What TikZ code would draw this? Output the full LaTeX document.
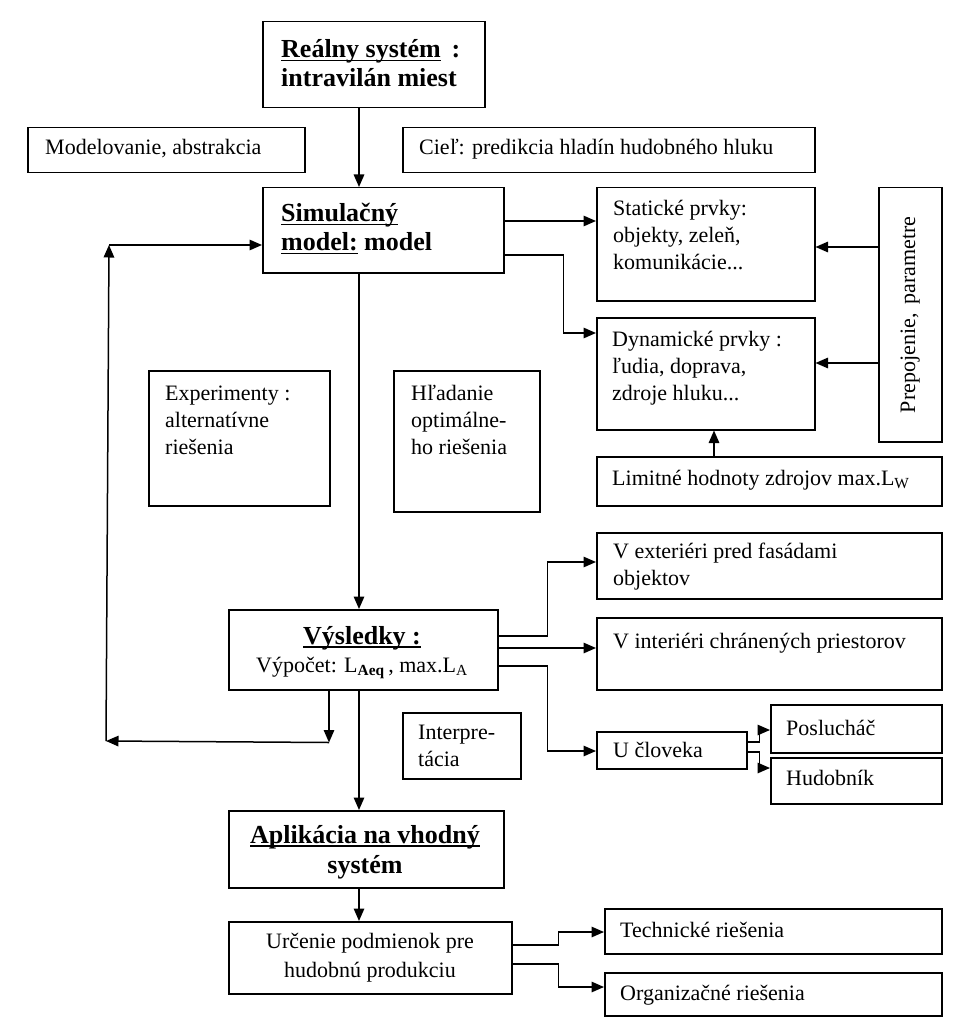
\documentclass[tikz,border=0pt]{standalone}
\usepackage{fontspec}
\setmainfont{Liberation Serif}
\usetikzlibrary{arrows.meta,calc}
\newcommand\myul[1]{\setbox0=\hbox{#1}\rlap{\rule[-3.5pt]{\wd0}{1.2pt}}\box0\relax}
\begin{document}
\begin{tikzpicture}[x=1pt,y=-1pt,
  box/.style={draw,line width=1.5pt,inner sep=0pt,anchor=north west},
  txt/.style={inner sep=0pt,align=left,anchor=base west,font=\fontsize{22}{27}\selectfont},
  ctxt/.style={inner sep=0pt,align=center,anchor=base,font=\fontsize{22}{29}\selectfont},
  btxt/.style={inner sep=0pt,align=left,anchor=base west,font=\fontsize{26}{29.5}\selectfont\bfseries},
  bctxt/.style={inner sep=0pt,align=center,anchor=base,font=\fontsize{26}{30}\selectfont\bfseries},
  arr/.style={line width=1.5pt,-{Triangle[length=12.5pt,width=10.5pt]}},
  ln/.style={line width=1.5pt}]
\useasboundingbox (0,0) rectangle (961,1024);

% boxes
\node[box,minimum width=222,minimum height=86] (real) at (262,21) {};
\node[box,minimum width=277,minimum height=45] (model) at (27,127) {};
\node[box,minimum width=412,minimum height=45] (ciel) at (402,127) {};
\node[box,minimum width=241,minimum height=85] (simul) at (262,187) {};
\node[box,minimum width=218,minimum height=113] (stat) at (596,187) {};
\node[box,minimum width=218,minimum height=112] (dyn) at (596,317) {};
\node[box,minimum width=63,minimum height=254] (prep) at (878,187) {};
\node[box,minimum width=345,minimum height=49] (lim) at (596,456) {};
\node[box,minimum width=181,minimum height=135] (exp) at (148,370) {};
\node[box,minimum width=146,minimum height=141] (hlad) at (393,370) {};
\node[box,minimum width=269,minimum height=80] (vys) at (228,609) {};
\node[box,minimum width=345,minimum height=66] (vext) at (596,532) {};
\node[box,minimum width=345,minimum height=72] (vint) at (596,617) {};
\node[box,minimum width=150,minimum height=37] (uclo) at (596,731) {};
\node[box,minimum width=171,minimum height=48] (posl) at (770,704) {};
\node[box,minimum width=171,minimum height=46] (hudo) at (770,757) {};
\node[box,minimum width=118,minimum height=66] (interp) at (402,712) {};
\node[box,minimum width=275,minimum height=77] (apl) at (228,810) {};
\node[box,minimum width=283,minimum height=72] (urc) at (228,921) {};
\node[box,minimum width=337,minimum height=45] (tech) at (604,908) {};
\node[box,minimum width=337,minimum height=43] (org) at (604,972) {};

% texts (multi-line nodes: base = last line)
\node[btxt] (realT) at (281,87) {\myul{Reálny systém}\, :\\intravilán miest};
\node[txt] (modelT) at (45,155) {Modelovanie, abstrakcia};
\node[txt] (cielT) at (419,155) {Cieľ: predikcia hladín hudobného hluku};
\node[btxt] (simulT) at (281,251) {\myul{Simulačný}\\\myul{model:} model};
\node[txt] (statT) at (613,269) {Statické prvky:\\objekty, zeleň,\\komunikácie...};
\node[txt] (dynT) at (612,400) {Dynamické prvky :\\ľudia, doprava,\\zdroje hluku...};
\node[txt,anchor=center,rotate=90] (prepT) at (prep.center) {Prepojenie,\, parametre};
\node[txt] (limT) at (612,485) {Limitné hodnoty zdrojov max.L\textsubscript{W}};
\node[txt] (expT) at (165,454) {Experimenty :\\alternatívne\\riešenia};
\node[txt] (hladT) at (411,454) {Hľadanie\\optimálne-\\ho riešenia};
\node[bctxt] (vysT) at (362,644) {\myul{Výsledky :}};
\node[ctxt] (vysT2) at (362,672) {Výpočet: L\textsubscript{\textbf{Aeq}}\,, max.L\textsubscript{A}};
\node[txt] (vextT) at (613,585) {V exteriéri pred fasádami\\objektov};
\node[txt] (vintT) at (613,648) {V interiéri chránených priestorov};
\node[txt] (ucloT) at (613,757) {U človeka};
\node[txt] (poslT) at (786,735) {Poslucháč};
\node[txt] (hudoT) at (786,785) {Hudobník};
\node[txt] (interpT) at (418,766) {Interpre-\\tácia};
\node[bctxt] (aplT) at (365,873) {\myul{Aplikácia na vhodný}\\systém};
\node[ctxt] (urcT) at (370,977) {Určenie podmienok pre\\hudobnú produkciu};
\node[txt] (techT) at (620,937) {Technické riešenia};
\node[txt] (orgT) at (620,1000) {Organizačné riešenia};

% connectors
\draw[arr] ([shift={(97,0)}]real.south west) -- ([shift={(97,0)}]simul.north west);
\draw[arr] ([shift={(97,0)}]simul.south west) -- ([shift={(131,0)}]vys.north west);
\draw[arr] ([shift={(131,0)}]vys.south west) -- ([shift={(131,0)}]apl.north west);
\draw[arr] ([shift={(131,0)}]apl.south west) -- ([shift={(131,0)}]urc.north west);

\draw[arr] ([shift={(0,34)}]simul.north east) -- ([shift={(0,34)}]stat.north west);
\draw[arr] ([shift={(0,68)}]simul.north east) -- ++(59,0) |- ([shift={(0,16)}]dyn.north west);
\draw[arr] ([shift={(0,60)}]prep.north west) -- ([shift={(0,60)}]stat.north east);
\draw[arr] ([shift={(0,176)}]prep.north west) -- ([shift={(0,46)}]dyn.north east);
\draw[arr] ([shift={(118,0)}]lim.north west) -- ([shift={(118,0)}]dyn.south west);

\draw[arr] ([shift={(0,27)}]vys.north east) -- ++(49,0) |- ([shift={(0,30)}]vext.north west);
\draw[arr] ([shift={(0,39)}]vys.north east) -- ([shift={(0,31)}]vint.north west);
\draw[arr] ([shift={(0,57)}]vys.north east) -- ++(49,0) |- ([shift={(0,20)}]uclo.north west);
\draw[arr] ([shift={(0,11)}]uclo.north east) -- ++(12,0) |- ([shift={(0,26)}]posl.north west);
\draw[arr] ([shift={(0,21)}]uclo.north east) -- ++(12,0) |- ([shift={(0,11)}]hudo.north west);

\draw[arr] ([shift={(0,24)}]urc.north east) -- ++(46,0) |- ([shift={(0,24)}]tech.north west);
\draw[arr] ([shift={(0,43)}]urc.north east) -- ++(46,0) |- ([shift={(0,15)}]org.north west);

% feedback loop
\coordinate (lb) at ([shift={(101,52)}]vys.south west);
\coordinate (lc) at (106,741);
\coordinate (lt) at (109,245);
\draw[arr] ([shift={(101,0)}]vys.south west) -- (lb);
\draw[arr] (lb) -- (lc);
\draw[arr] (lc) -- (lt);
\draw[arr] (lt) -- (lt -| simul.west);
\end{tikzpicture}
\end{document}
